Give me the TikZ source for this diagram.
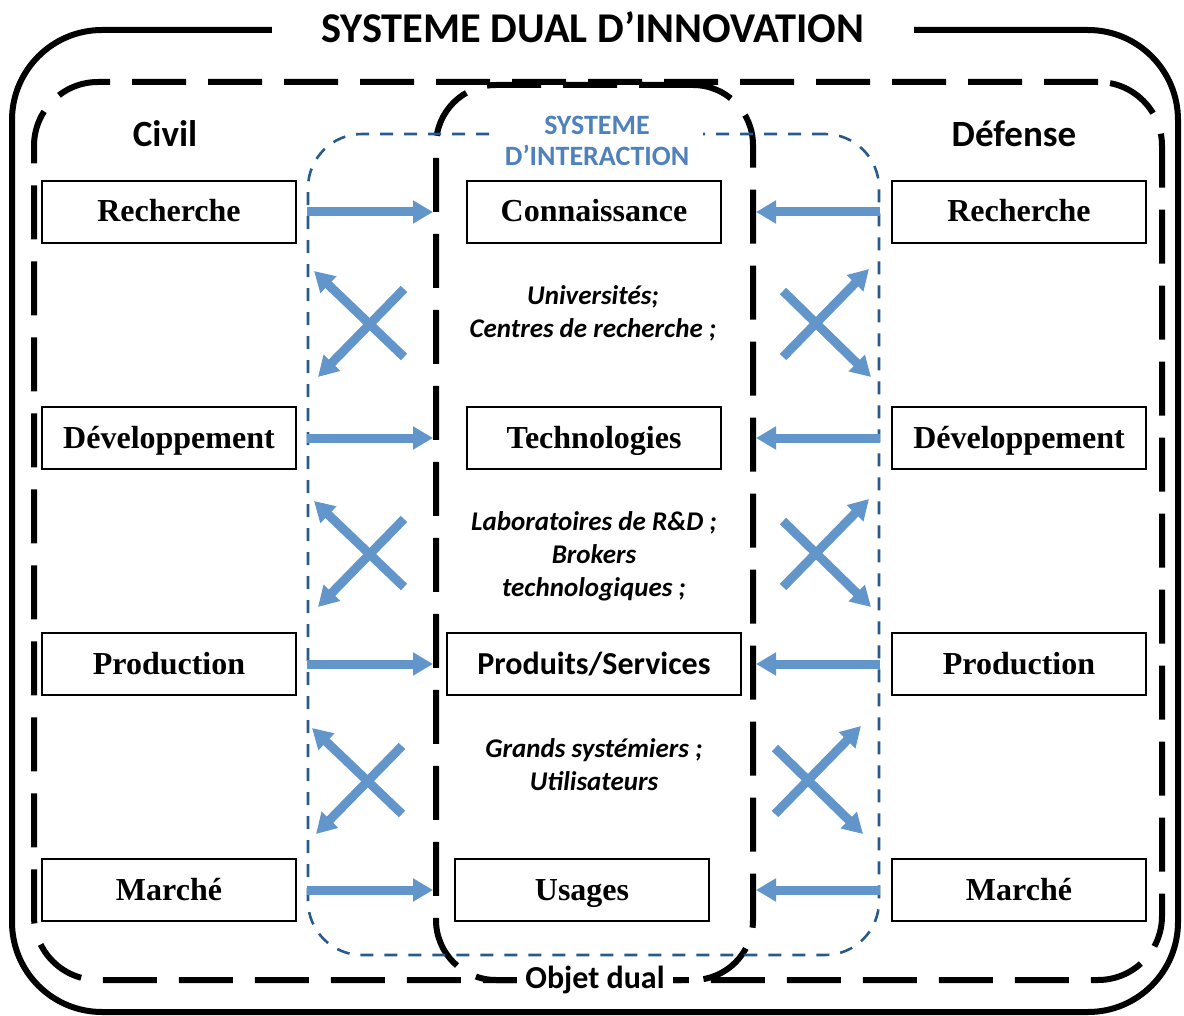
\documentclass[tikz,border=0pt]{standalone}
\usepackage{fontspec}
\setmainfont{Liberation Serif}
\newfontfamily\calib{Carlito}
\usetikzlibrary{positioning,arrows.meta}
\definecolor{flowblue}{RGB}{98,150,202}
\definecolor{interblue}{RGB}{41,90,140}
\definecolor{labelblue}{RGB}{79,129,189}

\begin{document}
\begin{tikzpicture}[x=0.5pt, y=-0.5pt, node distance={113pt},
        box/.style = {draw, line width=0.8pt, minimum width=127pt, minimum height=31pt, inner sep=0pt, text height=13pt, text depth=3pt, font=\fontsize{16}{19}\selectfont\bfseries},
        flow/.style = {draw=flowblue, line width=4.5pt, -{Triangle[width=11pt,length=10pt]}},
        side/.style = {font=\calib\fontsize{18.5}{22}\selectfont\bfseries},
        note/.style = {align=center, font=\calib\fontsize{13.5}{16.6}\selectfont\bfseries\itshape},
        longdash/.style = {line width=3pt, dash pattern=on 27pt off 11pt}]
        \useasboundingbox (0,0) rectangle (1184,1016);
        %% Frames
        \node[draw, line width=3pt, rounded corners=45pt, minimum width=583pt, minimum height=491pt] (sysdual) at (595,521) {};
        \node[draw, longdash, rounded corners=32pt, minimum width=564pt, minimum height=449pt] (civdef) at (598,531) {};
        \node[draw, longdash, rounded corners=30pt, minimum width=158.5pt, minimum height=447.5pt] (objet) at (594.5,532.5) {};
        \node[draw=interblue, line width=1.3pt, dash pattern=on 6.5pt off 5.5pt, rounded corners=27pt, minimum width=285.5pt, minimum height=410.5pt] (inter) at (593.5,544.5) {};
        %% Titles
        \node[fill=white, inner xsep=25pt, inner ysep=2pt, font=\calib\fontsize{21.2}{25}\selectfont\bfseries] (title) at (593,27) {SYSTEME DUAL D’INNOVATION};
        \node[fill=white, align=center, text=labelblue, inner xsep=7pt, inner ysep=1pt, font=\calib\fontsize{14}{15.5}\selectfont\bfseries] (intertitle) at (597,141) {SYSTEME\\D’INTERACTION};
        \node[fill=white, anchor=base, inner xsep=4pt, inner ysep=1pt, font=\calib\fontsize{16}{19}\selectfont\bfseries] (objtitle) at (595,988) {Objet dual};
        \node[side] (civil) at (165,134) {Civil};
        \node[side] (defense) at (1014,134) {Défense};
        %% Civil
        \node[box] (civR) at (169,212) {Recherche};
        \node[box] (civD) [below of=civR] {Développement};
        \node[box] (civP) [below of=civD] {Production};
        \node[box] (civM) [below of=civP] {Marché};
        %% Objet dual
        \node[box] (objC) [right of=civR, node distance=212.5pt] {Connaissance};
        \node[box] (objT) [right of=civD, node distance=212.5pt] {Technologies};
        \node[box, minimum width=147pt, font=\calib\fontsize{16}{19}\selectfont\bfseries] (objP) [right of=civP, node distance=212.5pt] {Produits/Services};
        \node[box] (objU) [right of=civM, node distance=206.5pt] {Usages};
        %% Defense
        \node[box] (defR) [right of=objC, node distance=212.5pt] {Recherche};
        \node[box] (defD) [right of=objT, node distance=212.5pt] {Développement};
        \node[box] (defP) [right of=objP, node distance=212.5pt] {Production};
        \node[box] (defM) [right of=objU, node distance=218.5pt] {Marché};
        %% Actors
        \node[note] (univ) at (593,313) {Universités;\\Centres de recherche ;};
        \node[note] (labo) at (594,556) {Laboratoires de R\&D ;\\Brokers\\technologiques ;};
        \node[note] (grands) at (594,765) {Grands systémiers ;\\Utilisateurs};
        %% Arrows
        \foreach \r in {R,D,P,M}{
            \draw[flow] (civ\r.east -| inter.west) -- (civ\r.east -| objet.west);
            \draw[flow] (def\r.west -| inter.east) -- (def\r.west -| objet.east);
        }
        \foreach \lx/\rx/\cy [count=\i] in {364/823/323, 364/823/553, 362/815/780}{
            \coordinate (xl\i) at (\lx,\cy);
            \coordinate (xr\i) at (\rx,\cy);
            \draw[flow] ([shift={(40,34)}]xl\i) -- ([shift={(-50,-52)}]xl\i);
            \draw[flow] ([shift={(40,-34)}]xl\i) -- ([shift={(-46,54)}]xl\i);
            \draw[flow] ([shift={(-40,-32)}]xr\i) -- ([shift={(48,54)}]xr\i);
            \draw[flow] ([shift={(-40,34)}]xr\i) -- ([shift={(46,-54)}]xr\i);
        }
\end{tikzpicture}
\end{document}
